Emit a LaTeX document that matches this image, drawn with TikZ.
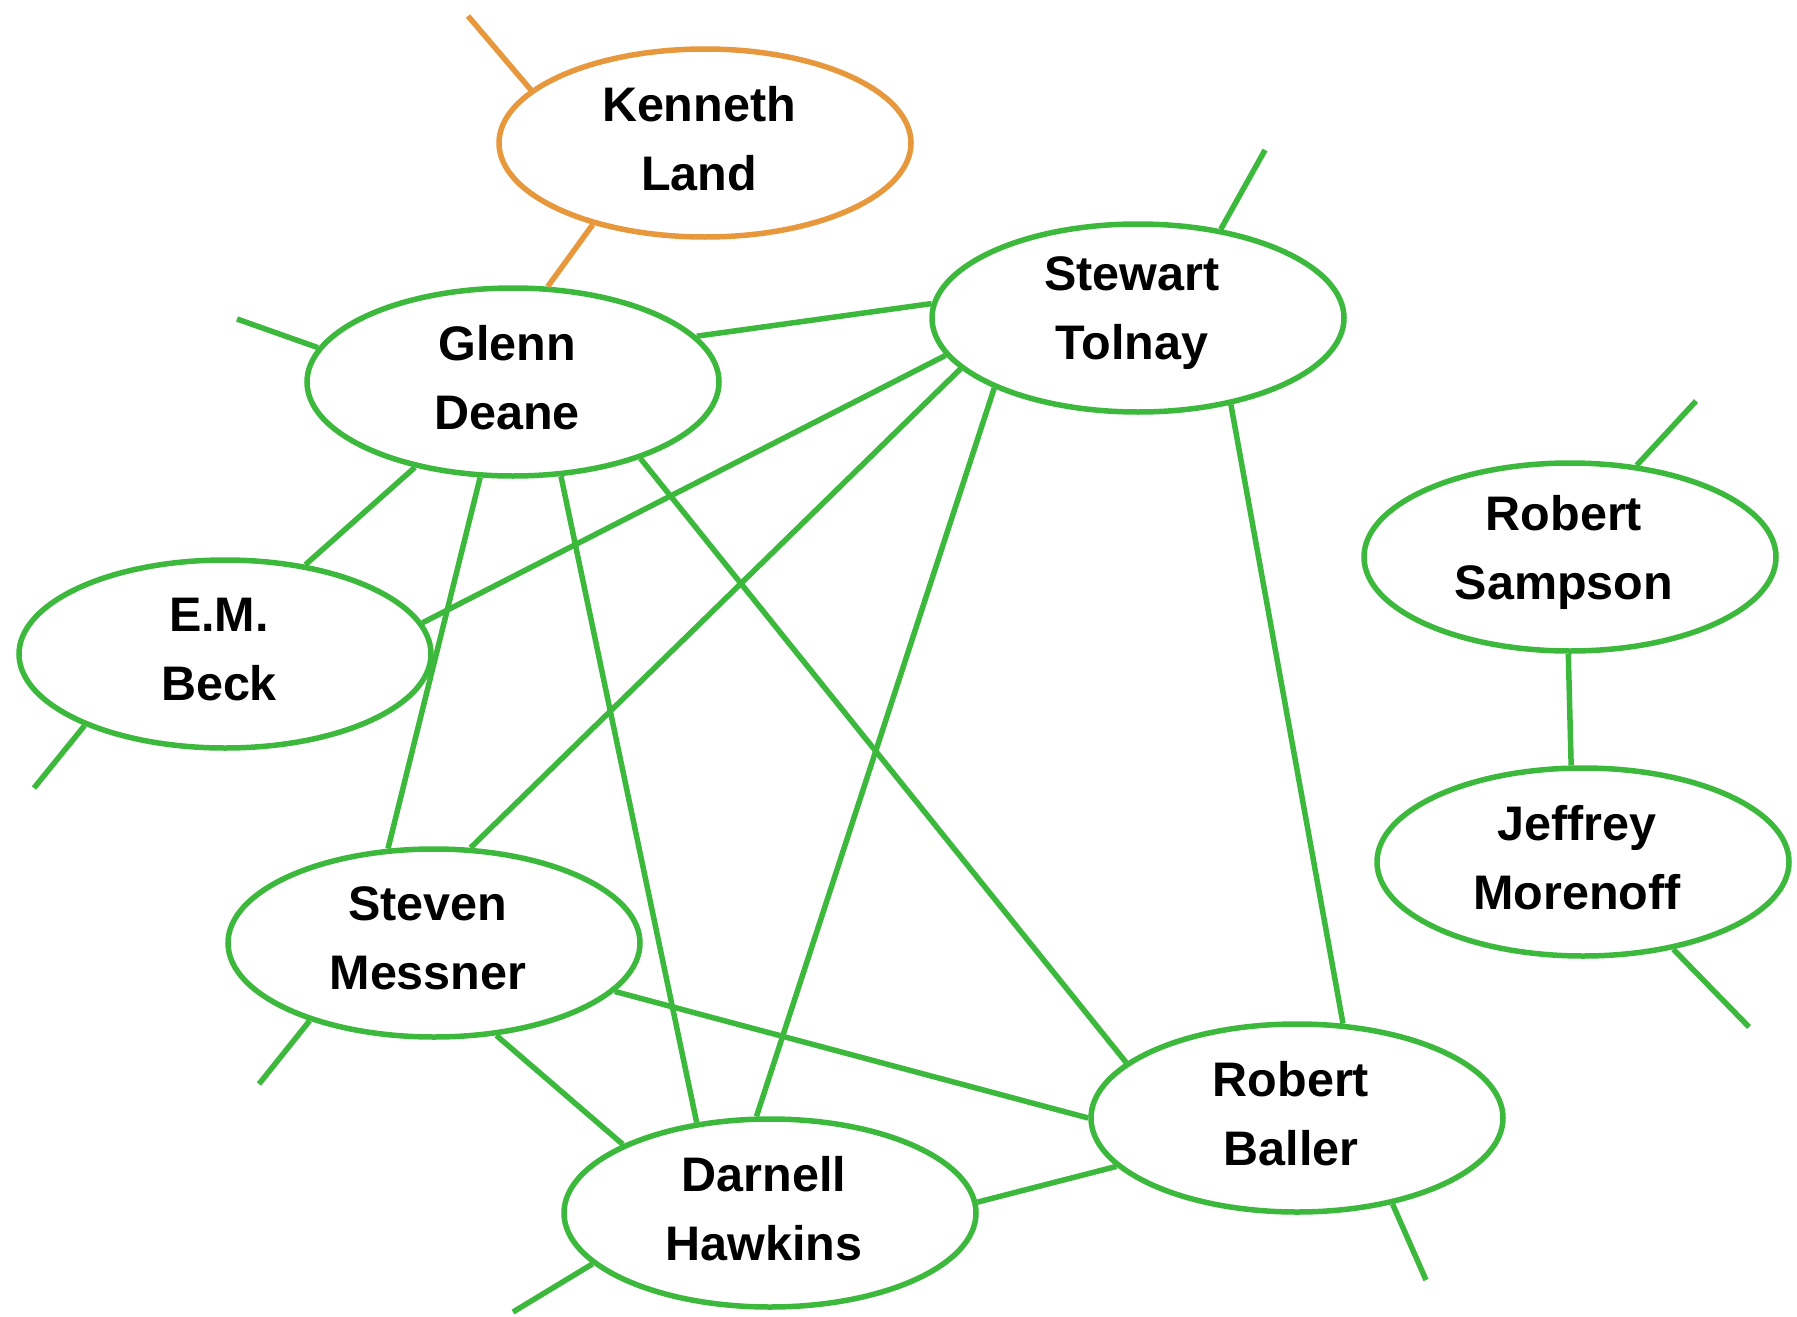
\documentclass[tikz,border=0pt]{standalone}
\usepackage{fontspec}
\setmainfont{Liberation Sans}
\usetikzlibrary{shapes.geometric}
\definecolor{grn}{RGB}{60,185,60}
\definecolor{org}{RGB}{232,152,60}
\tikzset{
  person/.style={ellipse, draw=grn, line width=5.5pt, minimum width=412pt, minimum height=188pt,
    inner sep=0pt},
  orgperson/.style={person, draw=org},
  ptext/.style={xshift=-6pt, yshift=4.5pt, align=center, inner sep=0pt,
    font=\fontsize{48.5}{69}\selectfont\bfseries},
  link/.style={draw=grn, line width=5.5pt},
  olink/.style={draw=org, line width=5.5pt}
}
\begin{document}
\begin{tikzpicture}[x=1pt,y=-1pt]
\useasboundingbox[fill=white] (0,0) rectangle (1797,1317);
\node[orgperson, label={[ptext]center:{Kenneth\\Land}}] (kl) at (705,143) {};
\node[person, label={[ptext]center:{Glenn\\Deane}}] (gd) at (513,382) {};
\node[person, label={[ptext]center:{Stewart\\Tolnay}}] (st) at (1138,318) {};
\node[person, label={[ptext]center:{E.M.\\Beck}}] (eb) at (225,654) {};
\node[person, label={[ptext]center:{Robert\\Sampson}}] (rs) at (1570,557) {};
\node[person, label={[ptext]center:{Jeffrey\\Morenoff}}] (jm) at (1583,862) {};
\node[person, label={[ptext]center:{Steven\\Messner}}] (sm) at (434,943) {};
\node[person, label={[ptext]center:{Darnell\\Hawkins}}] (dh) at (770,1213) {};
\node[person, label={[ptext]center:{Robert\\Baller}}] (rb) at (1297,1118) {};

\coordinate (klx) at (468,16);
\coordinate (gdx) at (237,319);
\coordinate (stx) at (1265,150);
\coordinate (ebx) at (34,788);
\coordinate (rsx) at (1696,401);
\coordinate (jmx) at (1749,1027);
\coordinate (smx) at (259,1084);
\coordinate (dhx) at (513,1312);
\coordinate (rbx) at (1426,1280);

\draw[olink] (kl.216.6) -- (gd.70.2);
\draw[olink] (kl.163.1) -- (klx);

\draw[link] (gd.14.8) -- (st.176.4);
\draw[link] (gd.221.3) -- (eb.48.7);
\draw[link] (gd.251.7) -- (sm.116.3);
\draw[link] (gd.-63.2) -- (dh.129.4);
\draw[link] (gd.-31.8) -- (rb.162.6);
\draw[link] (st.191.7) -- (eb.9.1);
\draw[link] (st.196) -- (sm.69.6);
\draw[link] (st.206.1) -- (dh.98.5);
\draw[link] (st.-43.5) -- (rb.64.4);
\draw[link] (rs.-91) -- (jm.97.7);
\draw[link] (sm.-15.1) -- (rb.180.5);
\draw[link] (sm.-56.5) -- (dh.155);
\draw[link] (dh.3.8) -- (rb.195.4);

\draw[link] (gd.170.1) -- (gdx);
\draw[link] (st.47.3) -- (stx);
\draw[link] (eb.207.4) -- (ebx);
\draw[link] (rs.54.2) -- (rsx);
\draw[link] (jm.-44) -- (jmx);
\draw[link] (sm.212) -- (smx);
\draw[link] (dh.196.7) -- (dhx);
\draw[link] (rb.-42) -- (rbx);
\end{tikzpicture}
\end{document}
